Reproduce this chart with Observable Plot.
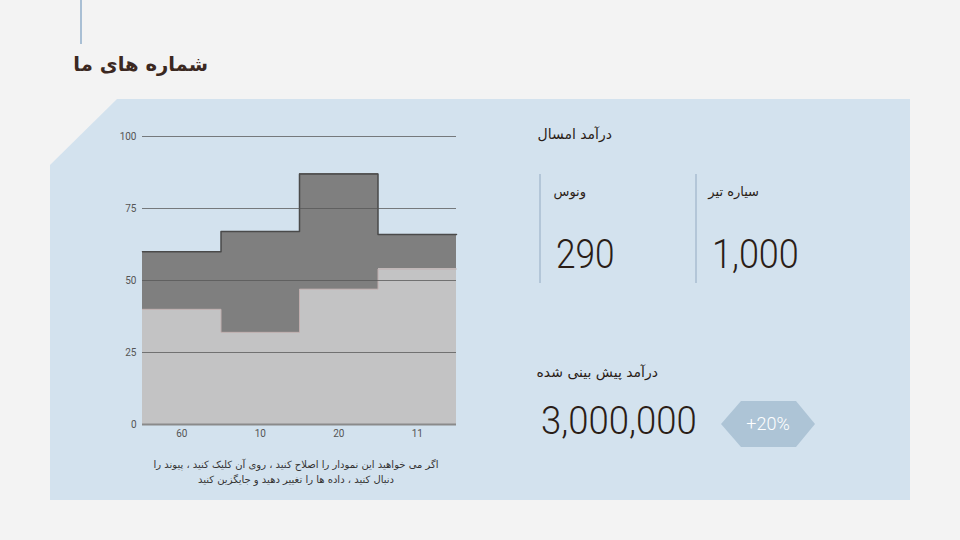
<!DOCTYPE html>
<html><head><meta charset="utf-8">
<script src="https://cdn.jsdelivr.net/npm/d3@7"></script>
<script src="https://cdn.jsdelivr.net/npm/@observablehq/plot@0.6"></script>
<style>
body{margin:0;background:#f3f3f3;width:960px;height:540px;overflow:hidden;position:relative;font-family:Roboto,sans-serif}
.abs{position:absolute}
.fa{font-family:"DejaVu Sans",sans-serif;direction:rtl;white-space:nowrap;line-height:1}
.num{font-family:Roboto,sans-serif;font-weight:300;color:#2a1d17;line-height:1;white-space:nowrap;transform-origin:left top}
</style></head><body>
<div class="abs" style="left:80px;top:0;width:2px;height:44px;background:#a9bfd4"></div>
<div class="abs fa" style="right:752px;top:55px;font-size:19.6px;font-weight:bold;color:#3b2821">شماره های ما</div>
<div class="abs" style="left:50px;top:99px;width:860px;height:401px;background:#d3e2ee;clip-path:polygon(67px 0,100% 0,100% 100%,0 100%,0 66px)"></div>
<div id="chart" class="abs" style="left:100px;top:120px"></div>
<div class="abs fa" style="left:100px;top:457px;width:392px;text-align:center;font-size:10px;line-height:15px;color:#333">اگر می خواهید این نمودار را اصلاح کنید ، روی آن کلیک کنید ، پیوند را<br>دنبال کنید ، داده ها را تغییر دهید و جایگزین کنید</div>

<div class="abs fa" style="right:348px;top:127px;font-size:14px;color:#2a1d17">درآمد امسال</div>
<div class="abs" style="left:539px;top:174px;width:2px;height:109px;background:#b3c6d8"></div>
<div class="abs" style="left:695px;top:174px;width:2px;height:109px;background:#b3c6d8"></div>
<div class="abs fa" style="right:374px;top:185px;font-size:13px;color:#2a1d17">ونوس</div>
<div class="abs fa" style="right:201px;top:185px;font-size:13px;color:#2a1d17">سیاره تیر</div>
<div class="abs num" id="n1" style="left:556px;top:235px;font-size:40px;transform:scaleX(0.88)"></div>
<div class="abs num" id="n2" style="left:712px;top:235px;font-size:40px;transform:scaleX(0.9)"></div>
<div class="abs fa" style="right:302px;top:365px;font-size:14px;color:#2a1d17">درآمد پیش بینی شده</div>
<div class="abs num" id="n3" style="left:541px;top:402px;font-size:38px;transform:scaleX(0.96)"></div>
<svg class="abs" style="left:0;top:0" width="960" height="540" pointer-events="none">
  <polygon points="721,424 741,401 796,401 815,424 796,447 741,447" fill="#adc4d6"/>
  <text id="pct" x="768" y="430" text-anchor="middle" font-family="Roboto" font-weight="300" font-size="18" fill="#ffffff"></text>
</svg>
<script>
const categories = ["60", "10", "20", "11"];
const seriesBottom = [40, 32, 47, 54];
const seriesTop = [20, 35, 40, 12];
const yTicks = [0, 25, 50, 75, 100];
const kpiLabels = ["ونوس", "سیاره تیر"];
const kpiValues = [290, 1000];
const forecastValue = 3000000;
const forecastChange = "+20%";

const fmt = d3.format(",");
document.getElementById("n1").textContent = fmt(kpiValues[0]);
document.getElementById("n2").textContent = fmt(kpiValues[1]);
document.getElementById("n3").textContent = fmt(forecastValue);
document.getElementById("pct").textContent = forecastChange;

const rows = [];
categories.forEach((c, i) => {
  rows.push({i, series: "a", value: seriesBottom[i]});
  rows.push({i, series: "b", value: seriesTop[i]});
});
const totals = categories.map((c, i) => seriesBottom[i] + seriesTop[i]);
const stepTop = totals.map((v, i) => ({x: i, y: v})).concat([{x: categories.length, y: totals[totals.length - 1]}]);
const stepBottom = seriesBottom.map((v, i) => ({x: i, y: v})).concat([{x: categories.length, y: seriesBottom[seriesBottom.length - 1]}]);

const chart = Plot.plot({
  width: 370,
  height: 325,
  marginLeft: 42,
  marginRight: 14,
  marginTop: 16,
  marginBottom: 21,
  style: {background: "transparent", color: "#555", fontSize: "10px", fontFamily: "Roboto, sans-serif"},
  x: {domain: [0, categories.length], axis: null},
  y: {domain: [0, 100], axis: null},
  color: {domain: ["a", "b"], range: ["#c3c3c4", "#7f7f7f"]},
  marks: [
    Plot.rectY(rows, {x1: "i", x2: d => d.i + 1, y: "value", fill: "series", order: null, shapeRendering: "crispEdges"}),
    Plot.lineY(stepBottom, {x: "x", y: "y", curve: "step-after", stroke: "#bfaeae", strokeWidth: 1}),
    Plot.lineY(stepTop, {x: "x", y: "y", curve: "step-after", stroke: "#4a4a4a", strokeWidth: 1.5}),
    Plot.ruleY(yTicks.filter(d => d > 0), {stroke: "#555", strokeOpacity: 0.75, strokeWidth: 1}),
    Plot.ruleY([0], {stroke: "#8a8a8a", strokeWidth: 2}),
    Plot.axisY(yTicks, {tickSize: 0, tickPadding: 6, fill: "#555"}),
    Plot.axisX(categories.map((c, i) => i + 0.5), {tickSize: 0, tickPadding: 5, tickFormat: d => categories[Math.floor(d)], fill: "#555"})
  ]
});
document.getElementById("chart").appendChild(chart);
</script>
</body></html>
